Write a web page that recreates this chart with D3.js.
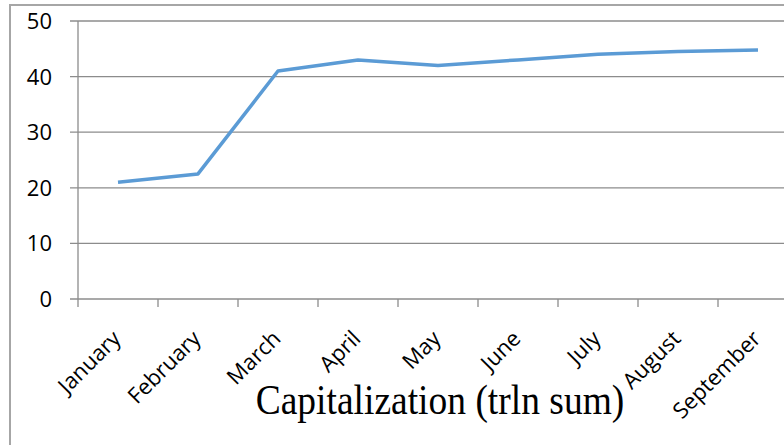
<!DOCTYPE html>
<html><head><meta charset="utf-8">
<script src="https://cdn.jsdelivr.net/npm/d3@7"></script>
<style>html,body{margin:0;padding:0;background:#fff;overflow:hidden}</style>
</head><body>
<svg id="chart" width="784" height="445"></svg>
<script>
const categories = ["January","February","March","April","May","June","July","August","September"];
const values = [21, 22.5, 41, 43, 42, 43, 44, 44.5, 44.8];
const yTicks = [0, 10, 20, 30, 40, 50];
const title = "Capitalization (trln sum)";

const svg = d3.select("#chart");
// outer frame
svg.append("path").attr("d","M10,445 V5 H784").attr("fill","none").attr("stroke","#a6a6a6").attr("stroke-width",2);

const x = d3.scaleBand().domain(categories).range([78, 798]);
const y = d3.scaleLinear().domain([0, 50]).range([299, 21]);

// gridlines
svg.append("g").selectAll("line").data(yTicks).join("line")
  .attr("x1", 70).attr("x2", 784)
  .attr("y1", d => y(d)).attr("y2", d => y(d))
  .attr("stroke", "#8c8c8c").attr("stroke-width", 1.3);

// y axis line
svg.append("line").attr("x1",78).attr("x2",78).attr("y1",y(50)).attr("y2",y(0))
  .attr("stroke","#8c8c8c").attr("stroke-width",1.3);

// y labels
svg.append("g").selectAll("text").data(yTicks).join("text")
  .attr("x", 52).attr("y", d => y(d)).attr("dy","0.36em")
  .attr("text-anchor","end").attr("font-family","'Open Sans', sans-serif").attr("font-size",22)
  .attr("fill","#000").text(d => d);

// x ticks
const xt = categories.map(c => x(c)).concat([x.range()[1]]);
svg.append("g").selectAll("line").data(xt).join("line")
  .attr("x1", d => d).attr("x2", d => d).attr("y1", y(0)).attr("y2", y(0)+8)
  .attr("stroke","#8c8c8c").attr("stroke-width",1.3);

// x labels
svg.append("g").selectAll("text").data(categories).join("text")
  .attr("transform", d => `translate(${x(d)+x.bandwidth()/2+4},${y(0)+41}) rotate(-45)`)
  .attr("text-anchor","end").attr("font-family","'Open Sans', sans-serif").attr("font-size",22)
  .attr("fill","#000").text(d => d);

// line
const line = d3.line().x((d,i) => x(categories[i]) + x.bandwidth()/2).y(d => y(d));
svg.append("path").datum(values).attr("d", line).attr("fill","none")
  .attr("stroke","#5b9bd5").attr("stroke-width",3.5).attr("stroke-linejoin","round");

// title
svg.append("text").attr("transform","translate(440,414) scale(1,1.1)").attr("text-anchor","middle")
  .attr("font-family","'Liberation Serif', 'Times New Roman', serif").attr("font-size",37.5)
  .attr("fill","#000").text(title);
</script>
</body></html>
